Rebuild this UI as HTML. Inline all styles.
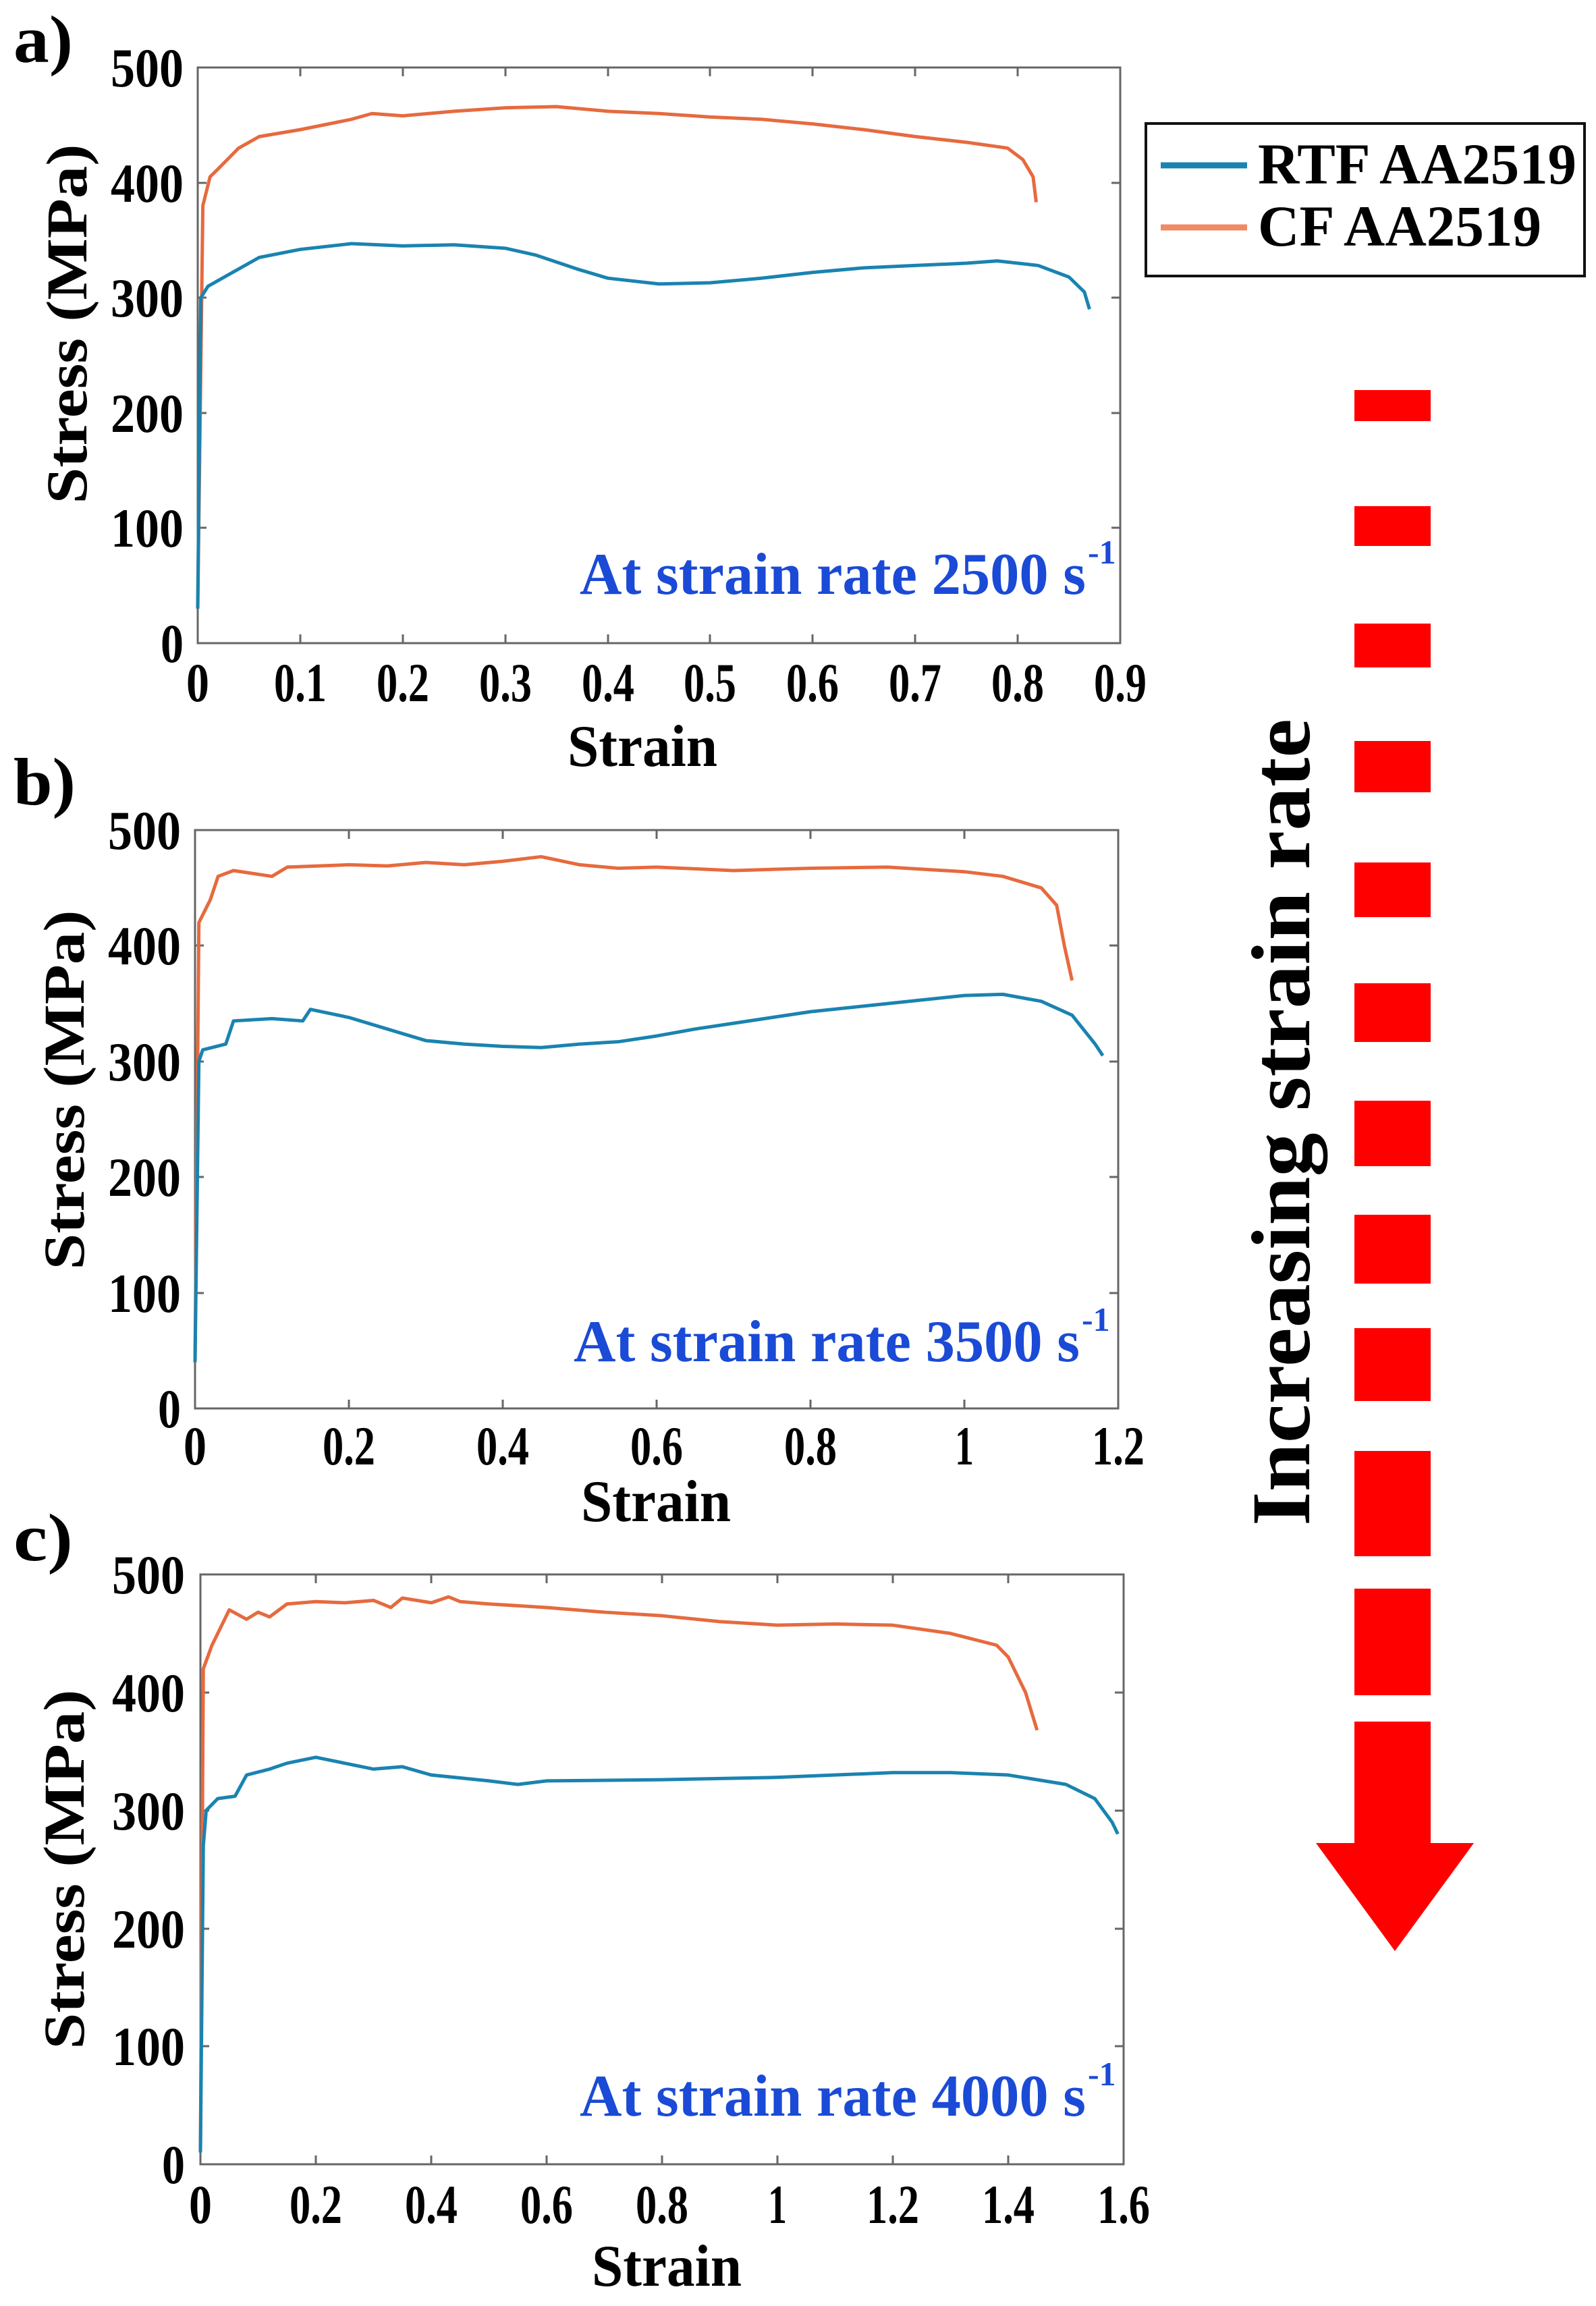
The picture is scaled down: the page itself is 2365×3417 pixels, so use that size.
<!DOCTYPE html>
<html><head><meta charset="utf-8"><style>html,body{margin:0;padding:0;background:#fff}svg{display:block}</style></head>
<body>
<svg width="2365" height="3417" viewBox="0 0 2365 3417" xmlns="http://www.w3.org/2000/svg" font-family="Liberation Serif, serif" font-weight="bold">
<rect width="2365" height="3417" fill="#fff"/>

<!-- ===== Panel a ===== -->
<text x="20" y="92" font-size="100" textLength="88" lengthAdjust="spacingAndGlyphs">a)</text>
<rect x="293" y="100" width="1367" height="853" fill="none" stroke="#666" stroke-width="3"/>
<g stroke="#666" stroke-width="3">
<line x1="445" y1="953" x2="445" y2="940"/><line x1="597" y1="953" x2="597" y2="940"/><line x1="749" y1="953" x2="749" y2="940"/><line x1="901" y1="953" x2="901" y2="940"/><line x1="1052" y1="953" x2="1052" y2="940"/><line x1="1204" y1="953" x2="1204" y2="940"/><line x1="1356" y1="953" x2="1356" y2="940"/><line x1="1508" y1="953" x2="1508" y2="940"/>
<line x1="445" y1="100" x2="445" y2="113"/><line x1="597" y1="100" x2="597" y2="113"/><line x1="749" y1="100" x2="749" y2="113"/><line x1="901" y1="100" x2="901" y2="113"/><line x1="1052" y1="100" x2="1052" y2="113"/><line x1="1204" y1="100" x2="1204" y2="113"/><line x1="1356" y1="100" x2="1356" y2="113"/><line x1="1508" y1="100" x2="1508" y2="113"/>
<line x1="293" y1="782" x2="306" y2="782"/><line x1="293" y1="612" x2="306" y2="612"/><line x1="293" y1="441" x2="306" y2="441"/><line x1="293" y1="271" x2="306" y2="271"/>
<line x1="1660" y1="782" x2="1647" y2="782"/><line x1="1660" y1="612" x2="1647" y2="612"/><line x1="1660" y1="441" x2="1647" y2="441"/><line x1="1660" y1="271" x2="1647" y2="271"/>
</g>
<g font-size="82" text-anchor="end" lengthAdjust="spacingAndGlyphs">
<text x="272" y="981" textLength="34" lengthAdjust="spacingAndGlyphs">0</text><text x="272" y="810" textLength="108" lengthAdjust="spacingAndGlyphs">100</text><text x="272" y="640" textLength="108" lengthAdjust="spacingAndGlyphs">200</text><text x="272" y="469" textLength="108" lengthAdjust="spacingAndGlyphs">300</text><text x="272" y="299" textLength="108" lengthAdjust="spacingAndGlyphs">400</text><text x="272" y="128" textLength="108" lengthAdjust="spacingAndGlyphs">500</text>
</g>
<g font-size="82" text-anchor="middle">
<text x="293" y="1039" textLength="34" lengthAdjust="spacingAndGlyphs">0</text><text x="445" y="1039" textLength="78" lengthAdjust="spacingAndGlyphs">0.1</text><text x="597" y="1039" textLength="78" lengthAdjust="spacingAndGlyphs">0.2</text><text x="749" y="1039" textLength="78" lengthAdjust="spacingAndGlyphs">0.3</text><text x="901" y="1039" textLength="78" lengthAdjust="spacingAndGlyphs">0.4</text><text x="1052" y="1039" textLength="78" lengthAdjust="spacingAndGlyphs">0.5</text><text x="1204" y="1039" textLength="78" lengthAdjust="spacingAndGlyphs">0.6</text><text x="1356" y="1039" textLength="78" lengthAdjust="spacingAndGlyphs">0.7</text><text x="1508" y="1039" textLength="78" lengthAdjust="spacingAndGlyphs">0.8</text><text x="1660" y="1039" textLength="78" lengthAdjust="spacingAndGlyphs">0.9</text>
</g>
<text x="952" y="1135" font-size="88" text-anchor="middle" textLength="222" lengthAdjust="spacingAndGlyphs">Strain</text>
<text transform="translate(128,480) rotate(-90)" font-size="86" text-anchor="middle" textLength="533" lengthAdjust="spacingAndGlyphs">Stress (MPa)</text>
<text x="1609" y="880" font-size="88" text-anchor="end" fill="#1a4ad6" textLength="750" lengthAdjust="spacingAndGlyphs">At strain rate 2500 s</text>
<text x="1612" y="835" font-size="50" fill="#1a4ad6">-1</text>
<g transform="translate(293,953) scale(1518.9,-1.706)" fill="none" stroke-width="5" stroke-linejoin="round">
<polyline vector-effect="non-scaling-stroke" stroke="#e66a3e" points="0,30 0.005,380 0.012,405 0.02,412 0.04,430 0.06,440 0.1,446 0.15,455 0.17,460 0.2,458 0.25,462 0.3,465 0.35,466 0.4,462 0.45,460 0.5,457 0.55,455 0.6,451 0.65,446 0.7,440 0.75,435 0.79,430 0.805,420 0.815,405 0.818,383"/>
<polyline vector-effect="non-scaling-stroke" stroke="#1a83b0" points="0,30 0.003,300 0.01,310 0.03,320 0.06,335 0.1,342 0.15,347 0.2,345 0.25,346 0.3,343 0.33,337 0.37,325 0.4,317 0.45,312 0.5,313 0.55,317 0.6,322 0.65,326 0.7,328 0.75,330 0.78,332 0.82,328 0.85,318 0.865,305 0.87,290"/>
</g>

<!-- Legend -->
<rect x="1698" y="183" width="650" height="226" fill="#fff" stroke="#111" stroke-width="4"/>
<line x1="1720" y1="245" x2="1848" y2="245" stroke="#1a83b0" stroke-width="9"/>
<line x1="1720" y1="337" x2="1848" y2="337" stroke="#f08a66" stroke-width="9"/>
<text x="1864" y="272" font-size="86" textLength="472" lengthAdjust="spacingAndGlyphs">RTF AA2519</text>
<text x="1864" y="364" font-size="86" textLength="420" lengthAdjust="spacingAndGlyphs">CF AA2519</text>

<!-- ===== Panel b ===== -->
<text x="20" y="1192" font-size="100" textLength="92" lengthAdjust="spacingAndGlyphs">b)</text>
<rect x="289" y="1230" width="1368" height="857" fill="none" stroke="#666" stroke-width="3"/>
<g stroke="#666" stroke-width="3">
<line x1="517" y1="2087" x2="517" y2="2074"/><line x1="745" y1="2087" x2="745" y2="2074"/><line x1="973" y1="2087" x2="973" y2="2074"/><line x1="1201" y1="2087" x2="1201" y2="2074"/><line x1="1429" y1="2087" x2="1429" y2="2074"/>
<line x1="517" y1="1230" x2="517" y2="1243"/><line x1="745" y1="1230" x2="745" y2="1243"/><line x1="973" y1="1230" x2="973" y2="1243"/><line x1="1201" y1="1230" x2="1201" y2="1243"/><line x1="1429" y1="1230" x2="1429" y2="1243"/>
<line x1="289" y1="1916" x2="302" y2="1916"/><line x1="289" y1="1744" x2="302" y2="1744"/><line x1="289" y1="1573" x2="302" y2="1573"/><line x1="289" y1="1401" x2="302" y2="1401"/>
<line x1="1657" y1="1916" x2="1644" y2="1916"/><line x1="1657" y1="1744" x2="1644" y2="1744"/><line x1="1657" y1="1573" x2="1644" y2="1573"/><line x1="1657" y1="1401" x2="1644" y2="1401"/>
</g>
<g font-size="82" text-anchor="end">
<text x="268" y="2115" textLength="34" lengthAdjust="spacingAndGlyphs">0</text><text x="268" y="1944" textLength="108" lengthAdjust="spacingAndGlyphs">100</text><text x="268" y="1772" textLength="108" lengthAdjust="spacingAndGlyphs">200</text><text x="268" y="1601" textLength="108" lengthAdjust="spacingAndGlyphs">300</text><text x="268" y="1429" textLength="108" lengthAdjust="spacingAndGlyphs">400</text><text x="268" y="1258" textLength="108" lengthAdjust="spacingAndGlyphs">500</text>
</g>
<g font-size="82" text-anchor="middle">
<text x="289" y="2170" textLength="34" lengthAdjust="spacingAndGlyphs">0</text><text x="517" y="2170" textLength="78" lengthAdjust="spacingAndGlyphs">0.2</text><text x="745" y="2170" textLength="78" lengthAdjust="spacingAndGlyphs">0.4</text><text x="973" y="2170" textLength="78" lengthAdjust="spacingAndGlyphs">0.6</text><text x="1201" y="2170" textLength="78" lengthAdjust="spacingAndGlyphs">0.8</text><text x="1429" y="2170" textLength="28" lengthAdjust="spacingAndGlyphs">1</text><text x="1657" y="2170" textLength="78" lengthAdjust="spacingAndGlyphs">1.2</text>
</g>
<text x="972" y="2254" font-size="88" text-anchor="middle" textLength="222" lengthAdjust="spacingAndGlyphs">Strain</text>
<text transform="translate(124,1615) rotate(-90)" font-size="86" text-anchor="middle" textLength="533" lengthAdjust="spacingAndGlyphs">Stress (MPa)</text>
<text x="1600" y="2017" font-size="88" text-anchor="end" fill="#1a4ad6" textLength="750" lengthAdjust="spacingAndGlyphs">At strain rate 3500 s</text>
<text x="1603" y="1972" font-size="50" fill="#1a4ad6">-1</text>
<g transform="translate(289,2087) scale(1140,-1.714)" fill="none" stroke-width="5" stroke-linejoin="round">
<polyline vector-effect="non-scaling-stroke" stroke="#e66a3e" points="0,40 0.005,420 0.02,440 0.03,460 0.05,465 0.08,462 0.1,460 0.12,468 0.2,470 0.25,469 0.3,472 0.35,470 0.4,473 0.45,477 0.5,470 0.55,467 0.6,468 0.7,465 0.8,467 0.9,468 1.0,464 1.05,460 1.1,450 1.12,435 1.13,400 1.14,370"/>
<polyline vector-effect="non-scaling-stroke" stroke="#1a83b0" points="0,40 0.005,300 0.01,310 0.04,315 0.05,335 0.1,337 0.14,335 0.15,345 0.2,338 0.25,328 0.3,318 0.35,315 0.4,313 0.45,312 0.5,315 0.55,317 0.6,322 0.65,328 0.7,333 0.8,343 0.9,350 1.0,357 1.05,358 1.1,352 1.14,340 1.17,315 1.18,305"/>
</g>

<!-- ===== Panel c ===== -->
<text x="20" y="2312" font-size="100" textLength="88" lengthAdjust="spacingAndGlyphs">c)</text>
<rect x="297" y="2333" width="1368" height="874" fill="none" stroke="#666" stroke-width="3"/>
<g stroke="#666" stroke-width="3">
<line x1="468" y1="3207" x2="468" y2="3194"/><line x1="639" y1="3207" x2="639" y2="3194"/><line x1="810" y1="3207" x2="810" y2="3194"/><line x1="981" y1="3207" x2="981" y2="3194"/><line x1="1152" y1="3207" x2="1152" y2="3194"/><line x1="1323" y1="3207" x2="1323" y2="3194"/><line x1="1494" y1="3207" x2="1494" y2="3194"/>
<line x1="468" y1="2333" x2="468" y2="2346"/><line x1="639" y1="2333" x2="639" y2="2346"/><line x1="810" y1="2333" x2="810" y2="2346"/><line x1="981" y1="2333" x2="981" y2="2346"/><line x1="1152" y1="2333" x2="1152" y2="2346"/><line x1="1323" y1="2333" x2="1323" y2="2346"/><line x1="1494" y1="2333" x2="1494" y2="2346"/>
<line x1="297" y1="3032" x2="310" y2="3032"/><line x1="297" y1="2858" x2="310" y2="2858"/><line x1="297" y1="2683" x2="310" y2="2683"/><line x1="297" y1="2508" x2="310" y2="2508"/>
<line x1="1665" y1="3032" x2="1652" y2="3032"/><line x1="1665" y1="2858" x2="1652" y2="2858"/><line x1="1665" y1="2683" x2="1652" y2="2683"/><line x1="1665" y1="2508" x2="1652" y2="2508"/>
</g>
<g font-size="82" text-anchor="end">
<text x="274" y="3235" textLength="34" lengthAdjust="spacingAndGlyphs">0</text><text x="274" y="3060" textLength="108" lengthAdjust="spacingAndGlyphs">100</text><text x="274" y="2886" textLength="108" lengthAdjust="spacingAndGlyphs">200</text><text x="274" y="2711" textLength="108" lengthAdjust="spacingAndGlyphs">300</text><text x="274" y="2536" textLength="108" lengthAdjust="spacingAndGlyphs">400</text><text x="274" y="2361" textLength="108" lengthAdjust="spacingAndGlyphs">500</text>
</g>
<g font-size="82" text-anchor="middle">
<text x="297" y="3294" textLength="34" lengthAdjust="spacingAndGlyphs">0</text><text x="468" y="3294" textLength="78" lengthAdjust="spacingAndGlyphs">0.2</text><text x="639" y="3294" textLength="78" lengthAdjust="spacingAndGlyphs">0.4</text><text x="810" y="3294" textLength="78" lengthAdjust="spacingAndGlyphs">0.6</text><text x="981" y="3294" textLength="78" lengthAdjust="spacingAndGlyphs">0.8</text><text x="1152" y="3294" textLength="28" lengthAdjust="spacingAndGlyphs">1</text><text x="1323" y="3294" textLength="78" lengthAdjust="spacingAndGlyphs">1.2</text><text x="1494" y="3294" textLength="78" lengthAdjust="spacingAndGlyphs">1.4</text><text x="1665" y="3294" textLength="78" lengthAdjust="spacingAndGlyphs">1.6</text>
</g>
<text x="988" y="3387" font-size="88" text-anchor="middle" textLength="222" lengthAdjust="spacingAndGlyphs">Strain</text>
<text transform="translate(124,2770) rotate(-90)" font-size="86" text-anchor="middle" textLength="533" lengthAdjust="spacingAndGlyphs">Stress (MPa)</text>
<text x="1609" y="3135" font-size="88" text-anchor="end" fill="#1a4ad6" textLength="750" lengthAdjust="spacingAndGlyphs">At strain rate 4000 s</text>
<text x="1612" y="3090" font-size="50" fill="#1a4ad6">-1</text>
<g transform="translate(297,3207) scale(855,-1.748)" fill="none" stroke-width="5" stroke-linejoin="round">
<polyline vector-effect="non-scaling-stroke" stroke="#e66a3e" points="0,10 0.005,420 0.02,440 0.05,470 0.08,462 0.1,468 0.12,464 0.15,475 0.2,477 0.25,476 0.3,478 0.33,472 0.35,480 0.4,476 0.43,481 0.45,477 0.5,475 0.6,472 0.7,468 0.8,465 0.9,460 1.0,457 1.1,458 1.2,457 1.3,450 1.38,440 1.4,430 1.43,400 1.45,368"/>
<polyline vector-effect="non-scaling-stroke" stroke="#1a83b0" points="0,10 0.005,270 0.01,300 0.03,310 0.06,312 0.08,330 0.12,335 0.15,340 0.2,345 0.25,340 0.3,335 0.35,337 0.4,330 0.5,325 0.55,322 0.6,325 0.8,326 1.0,328 1.2,332 1.3,332 1.4,330 1.5,322 1.55,310 1.58,290 1.59,280"/>
</g>

<!-- ===== Red dashed arrow ===== -->
<g fill="#ff0000">
<rect x="2007" y="578" width="113" height="46"/>
<rect x="2007" y="750" width="113" height="59"/>
<rect x="2007" y="924" width="113" height="65"/>
<rect x="2007" y="1098" width="113" height="76"/>
<rect x="2007" y="1278" width="113" height="81"/>
<rect x="2007" y="1457" width="113" height="87"/>
<rect x="2007" y="1631" width="113" height="97"/>
<rect x="2007" y="1800" width="113" height="102"/>
<rect x="2007" y="1968" width="113" height="108"/>
<rect x="2007" y="2150" width="113" height="156"/>
<rect x="2007" y="2354" width="113" height="158"/>
<rect x="2007" y="2551" width="113" height="182"/>
<polygon points="1950,2731 2184,2731 2067,2891"/>
</g>
<text transform="translate(1940,1663) rotate(-90)" font-size="124" text-anchor="middle" textLength="1196" lengthAdjust="spacingAndGlyphs">Increasing strain rate</text>
</svg>
</body></html>
